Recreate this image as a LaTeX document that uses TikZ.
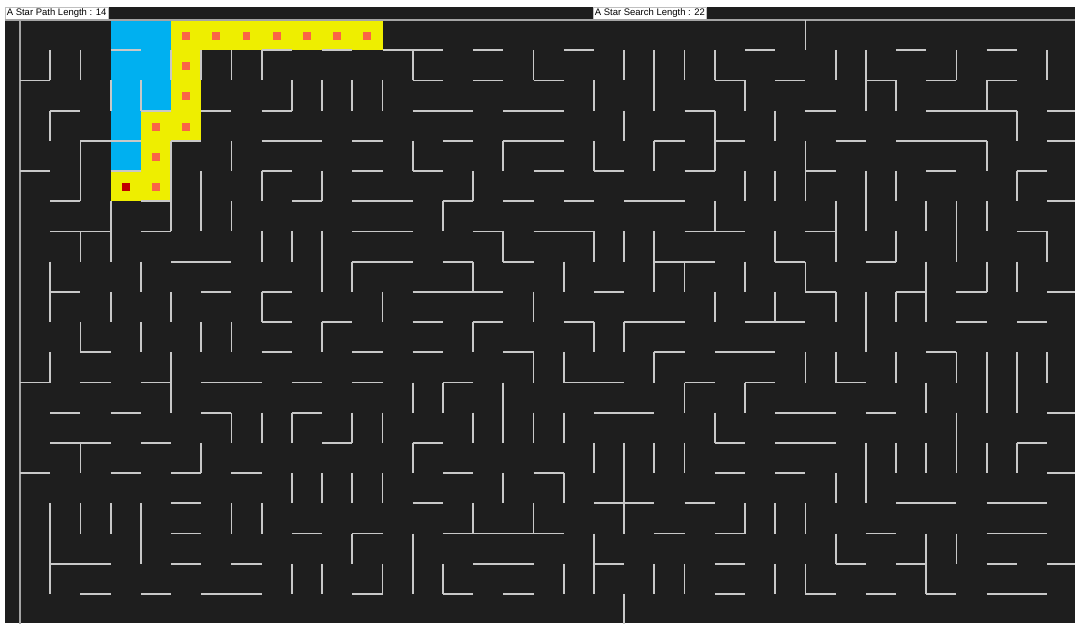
\documentclass[tikz,border=0pt]{standalone}
\usepackage{fontspec}
\setmainfont{Liberation Sans}

\definecolor{mazebg}{RGB}{30,30,30}
\definecolor{wallgray}{RGB}{200,200,200}
\definecolor{rimgray}{RGB}{165,165,165}
\definecolor{searchblue}{RGB}{0,176,240}
\definecolor{pathyellow}{RGB}{238,238,0}
\definecolor{dotorange}{RGB}{250,100,70}
\definecolor{startred}{RGB}{192,0,0}

\begin{document}
\begin{tikzpicture}[x=0.025cm, y=-0.025cm,
        wall/.style={draw=wallgray, line width=0.045cm},
        rim/.style={draw=rimgray, line width=0.045cm},
        searched/.style={fill=searchblue},
        onpath/.style={fill=pathyellow},
        pathdot/.style={fill=dotorange},
        startdot/.style={fill=startred},
        lenbox/.style={fill=white, draw=gray!50, line width=0.3pt, anchor=north west,
            inner xsep=0.04cm, inner ysep=0pt, minimum height=0.3cm,
            font=\fontsize{6.75}{7}\selectfont}]

        % 背景
        \useasboundingbox (0,0) rectangle (1075,623);
        \fill[white] (0,0) rectangle (1075,623);
        \fill[mazebg] (5,7) rectangle (1075,623);

        % 标签
        \node[lenbox] (pathlen) at (5,7) {A Star Path Length : 14};
        \node[lenbox] (searchlen) at (593,7) {A Star Search Length : 22};

        \begin{scope}[shift={(20,20)}, x=0.755cm, y=-0.755cm]
            % 搜索过的格子
            \foreach \i/\j in {3/0,4/0,3/1,4/1,3/2,4/2,3/3,3/4}
                \fill[searched] (\i,\j) rectangle ++(1,1);

            % 路径
            \foreach \i/\j in {3/5,4/5,4/4,4/3,5/3,5/2,5/1,5/0,6/0,7/0,8/0,9/0,10/0,11/0}
                \fill[onpath] (\i,\j) rectangle ++(1,1);
            \foreach \i/\j in {4/5,4/4,4/3,5/3,5/2,5/1,5/0,6/0,7/0,8/0,9/0,10/0,11/0}
                \fill[pathdot] (\i+.37,\j+.4) rectangle ++(.26,.26);
            \fill[startdot] (3.37,5.4) rectangle ++(.26,.26);

            % 外墙
            \draw[rim] (-0.5,0) -- (35,0);
            \draw[rim] (0,0) -- (0,20);

            % 横向墙
            \foreach \j/\a/\b in {
                1/3/4, 1/8/9, 1/10/11, 1/12/14, 1/15/16, 1/18/19, 1/24/25, 1/29/30, 1/32/33,
                2/0/1, 2/13/14, 2/15/16, 2/17/18, 2/23/24, 2/25/26, 2/28/29, 2/30/31, 2/32/33,
                3/1/2, 3/4/5, 3/6/7, 3/8/9, 3/13/15, 3/16/18, 3/22/23, 3/26/27, 3/30/33, 3/34/35,
                4/2/4, 4/5/6, 4/8/10, 4/11/12, 4/14/15, 4/16/18, 4/21/22, 4/23/24, 4/27/28, 4/29/32, 4/34/35,
                5/0/1, 5/3/4, 5/8/9, 5/11/12, 5/13/14, 5/17/18, 5/19/20, 5/22/23, 5/26/27, 5/30/31, 5/33/34,
                6/1/2, 6/4/5, 6/9/10, 6/11/13, 6/14/15, 6/16/17, 6/18/19, 6/20/22, 6/34/35,
                7/1/3, 7/4/5, 7/11/13, 7/15/16, 7/17/19, 7/22/24, 7/26/27, 7/33/34,
                8/5/7, 8/11/13, 8/14/15, 8/16/17, 8/21/23, 8/25/26, 8/28/29,
                9/1/2, 9/6/7, 9/8/9, 9/13/16, 9/19/20, 9/26/27, 9/29/30, 9/31/32, 9/34/35,
                10/8/9, 10/10/11, 10/13/14, 10/15/16, 10/18/19, 10/20/22, 10/24/26, 10/31/32, 10/33/34,
                11/2/3, 11/8/9, 11/11/12, 11/13/14, 11/16/17, 11/21/22, 11/23/25, 11/30/31,
                12/0/1, 12/2/3, 12/4/5, 12/6/8, 12/9/10, 12/11/12, 12/14/15, 12/18/20, 12/22/23, 12/24/25, 12/27/28,
                13/1/2, 13/3/4, 13/6/7, 13/9/10, 13/19/21, 13/25/27, 13/28/29, 13/34/35,
                14/1/3, 14/4/5, 14/10/11, 14/13/14, 14/23/24, 14/25/27, 14/33/34,
                15/0/1, 15/3/4, 15/5/6, 15/7/8, 15/14/15, 15/17/18, 15/23/24, 15/25/26, 15/34/35,
                16/5/6, 16/13/14, 16/19/21, 16/22/23, 16/29/31, 16/32/34,
                17/5/6, 17/9/10, 17/11/12, 17/14/18, 17/21/22, 17/23/24, 17/28/29, 17/32/34,
                18/1/3, 18/5/6, 18/7/8, 18/15/17, 18/19/20, 18/23/24, 18/27/28, 18/29/30, 18/32/33, 18/34/35,
                19/2/3, 19/4/5, 19/6/8, 19/11/12, 19/14/15, 19/16/17, 19/23/24, 19/26/27, 19/28/29, 19/30/31, 19/32/34}
                \draw[wall] (\a,\j) -- (\b,\j);

            % 纵向墙
            \foreach \i/\a/\b in {
                1/1/2, 1/3/4, 1/8/10, 1/11/12, 1/16/19,
                2/1/2, 2/4/6, 2/7/8, 2/10/11, 2/14/15, 2/16/17,
                3/2/3, 3/6/8, 3/9/10, 3/16/17,
                4/2/3, 4/8/9, 4/10/11, 4/16/18,
                5/1/2, 5/4/7, 5/9/10, 5/11/13,
                6/1/2, 6/5/7, 6/10/11, 6/14/15,
                7/1/2, 7/4/5, 7/6/7, 7/10/11, 7/13/14, 7/16/17,
                8/1/2, 8/5/6, 8/7/8, 8/9/10, 8/13/14, 8/16/17,
                9/2/3, 9/7/8, 9/13/14, 9/15/16, 9/18/19,
                10/2/3, 10/5/6, 10/7/9, 10/10/11, 10/15/16, 10/18/19,
                11/2/3, 11/8/9, 11/13/14, 11/15/16, 11/17/18,
                12/2/3, 12/9/10, 12/13/14, 12/15/16, 12/18/19,
                13/1/2, 13/4/5, 13/12/13, 13/14/15, 13/17/19,
                14/6/7, 14/12/13, 14/18/19,
                15/5/6, 15/8/9, 15/10/11, 15/13/14, 15/16/17,
                16/4/5, 16/7/8, 16/12/14, 16/15/16,
                17/1/2, 17/9/10, 17/11/12, 17/13/14, 17/16/17,
                18/8/9, 18/11/12, 18/13/14, 18/15/16, 18/18/19,
                19/2/3, 19/4/5, 19/7/8, 19/10/11, 19/14/15, 19/17/19,
                20/1/2, 20/3/4, 20/7/8, 20/10/11, 20/14/17, 20/19/20,
                21/1/3, 21/4/5, 21/7/9, 21/11/12, 21/14/15, 21/18/19,
                22/1/2, 22/8/9, 22/12/13, 22/14/15, 22/18/19,
                23/1/2, 23/3/5, 23/6/7, 23/9/10, 23/13/14,
                24/2/3, 24/5/6, 24/8/9, 24/12/13, 24/16/17,
                25/3/4, 25/5/6, 25/7/8, 25/9/10, 25/16/17, 25/18/19,
                26/0/1, 26/4/6, 26/8/9, 26/11/12, 26/16/17, 26/18/19,
                27/1/2, 27/6/8, 27/9/10, 27/11/12, 27/15/16, 27/17/18,
                28/1/3, 28/5/7, 28/9/11, 28/14/16,
                29/2/3, 29/5/6, 29/7/8, 29/9/10, 29/11/12, 29/14/15,
                30/6/7, 30/8/10, 30/12/13, 30/14/15, 30/17/19,
                31/1/2, 31/6/8, 31/11/12, 31/13/15, 31/17/18,
                32/2/3, 32/4/5, 32/6/7, 32/8/9, 32/11/13, 32/14/15,
                33/3/4, 33/5/6, 33/8/9, 33/11/13, 33/14/15,
                34/1/2, 34/7/8, 34/11/12}
                \draw[wall] (\i,\a) -- (\i,\b);
        \end{scope}

    \end{tikzpicture}
\end{document}
